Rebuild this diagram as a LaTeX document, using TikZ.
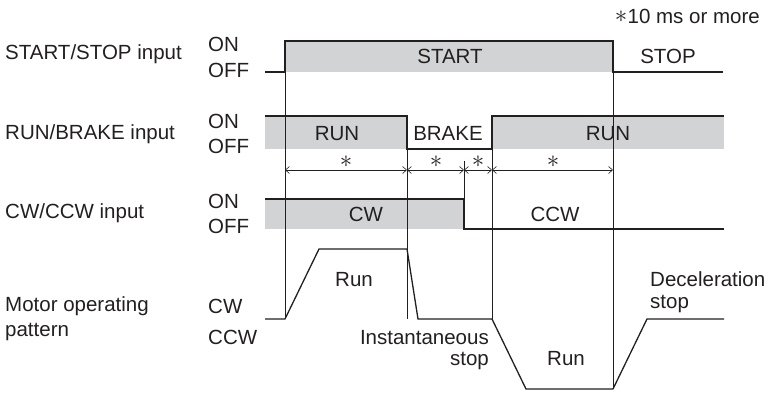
\documentclass[tikz,border=0pt]{standalone}
\usepackage{fontspec}
\setmainfont{Liberation Sans}
\usetikzlibrary{arrows.meta}
\definecolor{ink}{HTML}{231F20}
\definecolor{fillg}{HTML}{D1D3D4}
\newcommand{\bigast}{{\fontsize{27}{27}\selectfont$\ast$}}
\begin{document}
\begin{tikzpicture}[x=1pt,y=-1pt,
  font=\fontsize{20.5}{22}\selectfont,
  sig/.style={draw=ink, line width=1.3pt, line join=miter},
  guide/.style={draw=ink, line width=0.6pt},
  lbl/.style={text=ink, inner sep=0pt, text height=14pt, text depth=0pt},
  astl/.style={text=ink, inner sep=0pt},
  dimline/.style={guide, {Straight Barb[length=4pt,width=7pt]}-{Straight Barb[length=4pt,width=7pt]}}]
\useasboundingbox (0,0) rectangle (772,393);
% grey "ON" areas
\fill[fillg] (285,41) rectangle (613,72);
\fill[fillg] (265,116) rectangle (407,149);
\fill[fillg] (492,116) rectangle (724,149);
\fill[fillg] (265,199) rectangle (464,229);
% timing coordinates
\coordinate (t1a) at (285,41);  \coordinate (t1b) at (285,319);
\coordinate (t2a) at (407,116); \coordinate (t2b) at (407,319);
\coordinate (t3a) at (464,161); \coordinate (t3b) at (464,199);
\coordinate (t4a) at (492,149); \coordinate (t4b) at (492,319);
\coordinate (t5a) at (613,41);  \coordinate (t5b) at (613,389);
% guide lines
\draw[guide] (t1a) -- (t1b);
\draw[guide] (t2a) -- (t2b);
\draw[guide] (t3a) -- (t3b);
\draw[guide] (t4a) -- (t4b);
\draw[guide] (t5a) -- (t5b);
% dimension arrows
\coordinate (d1) at (285,170); \coordinate (d2) at (407,170);
\coordinate (d3) at (464,170); \coordinate (d4) at (492,170);
\coordinate (d5) at (613,170);
\draw[dimline] (d1) -- (d2);
\draw[dimline] (d2) -- (d3);
\draw[dimline] (d3) -- (d4);
\draw[dimline] (d4) -- (d5);
\node[astl] (a1) at (346,162) {\bigast};
\node[astl] (a2) at (436,162) {\bigast};
\node[astl] (a3) at (478,162) {\bigast};
\node[astl] (a4) at (553,162) {\bigast};
% START/STOP signal
\draw[sig] (265,72) -- (285,72) -- (285,41) -- (613,41) -- (613,72) -- (723,72);
% RUN/BRAKE signal
\draw[sig] (265,116) -- (407,116) -- (407,149) -- (492,149) -- (492,116) -- (724,116);
% CW/CCW signal
\draw[sig] (265,199) -- (464,199) -- (464,229) -- (724,229);
% motor operating pattern
\draw[sig] (265,319) -- (285,319) -- (319,249) -- (407,249) -- (418,319) -- (492,319)
  -- (526,389) -- (613,389) -- (647,319) -- (724,319);
% left labels
\node[lbl, anchor=west] (ssin) at (5,53) {START/STOP input};
\node[lbl, anchor=west] (rbin) at (5,133) {RUN/BRAKE input};
\node[lbl, anchor=west] (cwin) at (5,212) {CW/CCW input};
\node[lbl, anchor=west] (mop1) at (5,305) {Motor operating};
\node[lbl, anchor=west] (mop2) at (5,329) {pattern};
\node[lbl, anchor=west] (on1) at (208,45) {ON};
\node[lbl, anchor=west] (off1) at (208,71) {OFF};
\node[lbl, anchor=west] (on2) at (208,122) {ON};
\node[lbl, anchor=west] (off2) at (208,147) {OFF};
\node[lbl, anchor=west] (on3) at (208,202) {ON};
\node[lbl, anchor=west] (off3) at (208,227) {OFF};
\node[lbl, anchor=west] (cwl) at (208,306) {CW};
\node[lbl, anchor=west] (ccwl) at (208,337) {CCW};
% signal labels
\node[lbl, anchor=east] (note) at (760,17) {10 ms or more};
\node[astl, anchor=east] (noteast) at (note.west) {\bigast};
\node[lbl] (start) at (450,57) {START};
\node[lbl] (stop) at (668,57) {STOP};
\node[lbl] (run1) at (337,134) {RUN};
\node[lbl] (brake) at (448,134) {BRAKE};
\node[lbl] (run2) at (608,134) {RUN};
\node[lbl] (cw) at (366,215) {CW};
\node[lbl] (ccw) at (555,215) {CCW};
\node[lbl] (mrun1) at (354,280) {Run};
\node[lbl] (mrun2) at (566,358) {Run};
\node[lbl, anchor=west] (dec1) at (650,280) {Deceleration};
\node[lbl, anchor=west] (dec2) at (650,301) {stop};
\node[lbl, anchor=east] (ins1) at (489,337) {Instantaneous};
\node[lbl, anchor=east] (ins2) at (489,358) {stop};
\end{tikzpicture}
\end{document}
